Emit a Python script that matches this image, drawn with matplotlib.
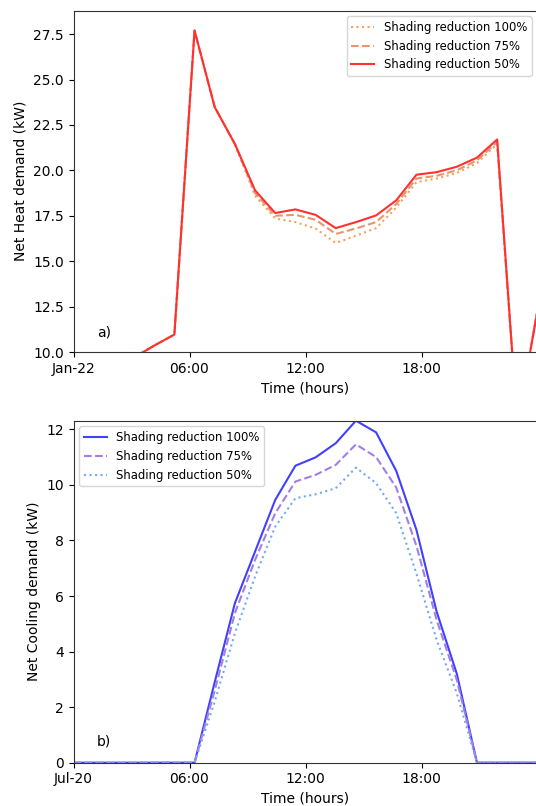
import matplotlib
matplotlib.use("Agg")
import matplotlib.pyplot as plt
import matplotlib.dates as mdates
import pandas as pd

# ---- data ----
heat_times = pd.date_range("2022-01-22 00:00", "2022-01-23 00:00", periods=24)
cool_times = pd.date_range("2022-07-20 00:00", "2022-07-21 00:00", periods=24)

heat_100 = [8.8, 9.1, 9.4, 9.7, 10.35, 10.96, 27.7, 23.48, 21.45, 18.6, 17.35, 17.15,
            16.8, 16.0, 16.4, 16.82, 17.95, 19.35, 19.55, 19.85, 20.4, 21.45, 6.0, 12.3]
heat_75 = [8.8, 9.1, 9.4, 9.7, 10.35, 10.96, 27.7, 23.48, 21.45, 18.75, 17.5, 17.55,
           17.28, 16.5, 16.8, 17.15, 18.15, 19.55, 19.7, 20.0, 20.55, 21.55, 6.0, 12.3]
heat_50 = [8.8, 9.1, 9.4, 9.7, 10.35, 10.96, 27.7, 23.48, 21.45, 18.9, 17.65, 17.85,
           17.55, 16.82, 17.15, 17.52, 18.35, 19.76, 19.9, 20.2, 20.7, 21.7, 6.0, 12.3]

cool_100 = [0, 0, 0, 0, 0, 0, 0, 2.9, 5.74, 7.6, 9.46, 10.69, 10.99, 11.5, 12.31, 11.89,
            10.5, 8.38, 5.44, 3.2, 0, 0, 0, 0]
cool_75 = [0, 0, 0, 0, 0, 0, 0, 2.6, 5.38, 7.3, 8.98, 10.12, 10.36, 10.72, 11.46, 11.0,
           9.9, 7.8, 5.14, 2.98, 0, 0, 0, 0]
cool_50 = [0, 0, 0, 0, 0, 0, 0, 2.2, 4.66, 6.7, 8.5, 9.52, 9.66, 9.88, 10.62, 10.06,
           8.98, 6.8, 4.42, 2.5, 0, 0, 0, 0]

labels_heat = ["Shading reduction 100%", "Shading reduction 75%", "Shading reduction 50%"]
labels_cool = ["Shading reduction 100%", "Shading reduction 75%", "Shading reduction 50%"]

heat_xticks = pd.date_range("2022-01-22 00:00", periods=4, freq="6h")
cool_xticks = pd.date_range("2022-07-20 00:00", periods=4, freq="6h")

W, H = 536, 806
fig = plt.figure(figsize=(W / 100, H / 100), dpi=100)

ax_left = 73.5 / W
ax_w = (537.5 - 73.5) / W
ax1 = fig.add_axes([ax_left, (H - 352) / H, ax_w, (352 - 10.5) / H])
ax2 = fig.add_axes([ax_left, (H - 762.7) / H, ax_w, (762.7 - 420.7) / H])


def fmt(x, pos=None):
    d = mdates.num2date(x)
    if d.hour == 0 and d.minute == 0:
        return d.strftime("%b-%d")
    return d.strftime("%H:%M")


ax1.plot(heat_times, heat_100, linestyle=":", color="#f2a35e", lw=1.5, label=labels_heat[0])
ax1.plot(heat_times, heat_75, linestyle="--", color="#e8956c", lw=1.5, label=labels_heat[1])
ax1.plot(heat_times, heat_50, linestyle="-", color="#ff3030", lw=1.5, label=labels_heat[2])
ax1.set_ylim(10, 28.8)
ax1.set_xlim(heat_times[0], heat_times[-1])
ax1.set_yticks([10.0, 12.5, 15.0, 17.5, 20.0, 22.5, 25.0, 27.5])
ax1.yaxis.set_major_formatter(matplotlib.ticker.FormatStrFormatter("%.1f"))
ax1.set_xticks(heat_xticks)
ax1.xaxis.set_major_formatter(matplotlib.ticker.FuncFormatter(fmt))
ax1.set_xlabel("Time (hours)")
ax1.set_ylabel("Net Heat demand (kW)")
ax1.legend(loc="upper right", fontsize="small")
ax1.text(0.05, 0.045, "a)", transform=ax1.transAxes, fontsize=10)

ax2.plot(cool_times, cool_100, linestyle="-", color="#4040ff", lw=1.5, label=labels_cool[0])
ax2.plot(cool_times, cool_75, linestyle="--", color="#a27fe6", lw=1.5, label=labels_cool[1])
ax2.plot(cool_times, cool_50, linestyle=":", color="#72aaf2", lw=1.5, label=labels_cool[2])
ax2.set_ylim(0, 12.31)
ax2.set_xlim(cool_times[0], cool_times[-1])
ax2.set_yticks([0, 2, 4, 6, 8, 10, 12])
ax2.set_xticks(cool_xticks)
ax2.xaxis.set_major_formatter(matplotlib.ticker.FuncFormatter(fmt))
ax2.set_xlabel("Time (hours)")
ax2.set_ylabel("Net Cooling demand (kW)")
ax2.legend(loc="upper left", fontsize="small")
ax2.text(0.05, 0.05, "b)", transform=ax2.transAxes, fontsize=10)

for ax in (ax1, ax2):
    for s in ax.spines.values():
        s.set_color("#333333")

fig.savefig("out.png", dpi=100)
